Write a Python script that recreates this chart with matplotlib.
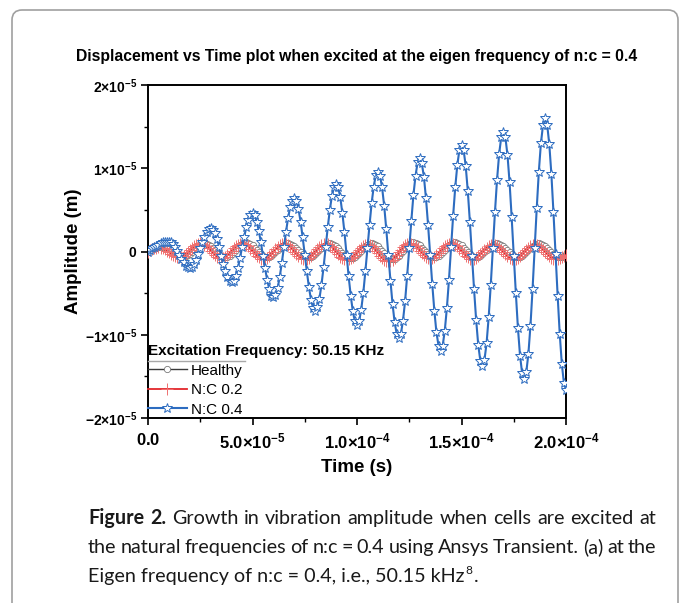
import numpy as np
import matplotlib
matplotlib.use("Agg")
import matplotlib.pyplot as plt
from matplotlib.patches import FancyBboxPatch
from matplotlib.lines import Line2D
from matplotlib.transforms import IdentityTransform
from matplotlib.ticker import FixedLocator, FixedFormatter, MultipleLocator

# ---------------- data (amplitudes in units of 1e-5 m) ----------------
title = "Displacement vs Time plot when excited at the eigen frequency of n:c = 0.4"
x_label = "Time (s)"
y_label = "Amplitude (m)"
legend_title = "Excitation Frequency: 50.15 KHz"
series_names = ["Healthy", "N:C 0.2", "N:C 0.4"]

x_ticks = [0.0, 5.0e-5, 1.0e-4, 1.5e-4, 2.0e-4]
x_tick_labels = [r"$0.0$", r"$5.0{\times}10^{-5}$", r"$1.0{\times}10^{-4}$",
                 r"$1.5{\times}10^{-4}$", r"$2.0{\times}10^{-4}$"]
y_ticks = [-2e-5, -1e-5, 0.0, 1e-5, 2e-5]
y_tick_labels = [r"$-2{\times}10^{-5}$", r"$-1{\times}10^{-5}$", r"$0$",
                 r"$1{\times}10^{-5}$", r"$2{\times}10^{-5}$"]

AMP_UNIT = 1e-5          # amplitude lists below are in 1e-5 m
time_s = np.linspace(0.0, 2.0e-4, 201)   # sampling grid, 1 µs step

healthy_e5 = [
    0.0, 0.013, 0.026, 0.037, 0.047, 0.054, 0.058, 0.06,
    0.057, 0.049, 0.035, 0.019, 0.0, -0.019, -0.035, -0.049, -0.057, -0.06,
    -0.056, -0.045, -0.027, -0.005, 0.02, 0.045, 0.067, 0.085, 0.096, 0.10,
    0.096, 0.084, 0.065, 0.041, 0.015, -0.011, -0.035, -0.054, -0.066, -0.07,
    -0.066, -0.053, -0.033, -0.008, 0.02, 0.048, 0.073, 0.093, 0.106, 0.11,
    0.106, 0.093, 0.073, 0.048, 0.02, -0.008, -0.033, -0.053, -0.066, -0.07,
    -0.066, -0.054, -0.035, -0.011, 0.015, 0.041, 0.065, 0.084, 0.096, 0.10,
    0.096, 0.084, 0.065, 0.041, 0.015, -0.011, -0.035, -0.054, -0.066, -0.07,
    -0.066, -0.054, -0.035, -0.011, 0.015, 0.041, 0.065, 0.084, 0.096, 0.10,
    0.096, 0.083, 0.063, 0.038, 0.01, -0.018, -0.043, -0.063, -0.076, -0.08,
    -0.076, -0.063, -0.043, -0.018, 0.01, 0.038, 0.063, 0.083, 0.096, 0.10,
    0.095, 0.082, 0.061, 0.034, 0.005, -0.024, -0.051, -0.072, -0.085, -0.09,
    -0.085, -0.071, -0.049, -0.021, 0.01, 0.041, 0.069, 0.091, 0.105, 0.11,
    0.106, 0.093, 0.073, 0.048, 0.02, -0.008, -0.033, -0.053, -0.066, -0.07,
    -0.066, -0.053, -0.033, -0.008, 0.02, 0.048, 0.073, 0.093, 0.106, 0.11,
    0.106, 0.093, 0.073, 0.048, 0.02, -0.008, -0.033, -0.053, -0.066, -0.07,
    -0.066, -0.054, -0.035, -0.011, 0.015, 0.041, 0.065, 0.084, 0.096, 0.10,
    0.096, 0.084, 0.065, 0.041, 0.015, -0.011, -0.035, -0.054, -0.066, -0.07,
    -0.066, -0.054, -0.035, -0.011, 0.015, 0.041, 0.065, 0.084, 0.096, 0.10,
    0.096, 0.084, 0.065, 0.041, 0.015, -0.011, -0.035, -0.054, -0.066, -0.07,
    -0.066, -0.054, -0.035,
]

nc02_e5 = [
    0.0, 0.015, 0.029, 0.040, 0.048, 0.05,
    0.047, 0.039, 0.025, 0.009, -0.01, -0.029, -0.045, -0.059, -0.067, -0.07,
    -0.066, -0.054, -0.035, -0.011, 0.015, 0.041, 0.065, 0.084, 0.096, 0.10,
    0.096, 0.083, 0.063, 0.038, 0.01, -0.018, -0.043, -0.063, -0.076, -0.08,
    -0.076, -0.063, -0.043, -0.018, 0.01, 0.038, 0.063, 0.083, 0.096, 0.10,
    0.095, 0.082, 0.061, 0.034, 0.005, -0.024, -0.051, -0.072, -0.085, -0.09,
    -0.086, -0.073, -0.053, -0.028, 0.0, 0.028, 0.053, 0.073, 0.086, 0.09,
    0.086, 0.073, 0.053, 0.028, 0.0, -0.028, -0.053, -0.073, -0.086, -0.09,
    -0.086, -0.073, -0.053, -0.028, 0.0, 0.028, 0.053, 0.073, 0.086, 0.09,
    0.085, 0.072, 0.051, 0.024, -0.005, -0.034, -0.061, -0.082, -0.095, -0.10,
    -0.096, -0.083, -0.063, -0.038, -0.01, 0.018, 0.043, 0.063, 0.076, 0.08,
    0.075, 0.061, 0.039, 0.011, -0.02, -0.051, -0.079, -0.101, -0.115, -0.12,
    -0.115, -0.099, -0.075, -0.044, -0.01, 0.024, 0.055, 0.079, 0.095, 0.10,
    0.096, 0.083, 0.063, 0.038, 0.01, -0.018, -0.043, -0.063, -0.076, -0.08,
    -0.076, -0.063, -0.043, -0.018, 0.01, 0.038, 0.063, 0.083, 0.096, 0.10,
    0.095, 0.082, 0.061, 0.034, 0.005, -0.024, -0.051, -0.072, -0.085, -0.09,
    -0.086, -0.074, -0.055, -0.031, -0.005, 0.021, 0.045, 0.064, 0.076, 0.08,
    0.076, 0.064, 0.045, 0.021, -0.005, -0.031, -0.055, -0.074, -0.086, -0.09,
    -0.086, -0.074, -0.055, -0.031, -0.005, 0.021, 0.045, 0.064, 0.076, 0.08,
    0.076, 0.064, 0.045, 0.021, -0.005, -0.031, -0.055, -0.074, -0.086, -0.09,
    -0.085, -0.075, -0.062, -0.05, -0.04,
]

nc04_e5 = [
    0.00, 0.02, 0.04, 0.05, 0.07, 0.08, 0.10, 0.11, 0.11, 0.12, 0.12,
    0.11, 0.09, 0.05, 0.01, -0.04, -0.09, -0.13, -0.17, -0.19, -0.20,
    -0.19, -0.15, -0.10, -0.03, 0.04, 0.11, 0.18, 0.23, 0.27, 0.28,
    0.26, 0.22, 0.15, 0.06, -0.05, -0.15, -0.24, -0.31, -0.35, -0.37,
    -0.35, -0.29, -0.20, -0.08, 0.05, 0.17, 0.29, 0.38, 0.44, 0.46,
    0.44, 0.36, 0.25, 0.11, -0.05, -0.20, -0.34, -0.45, -0.53, -0.55,
    -0.52, -0.44, -0.31, -0.14, 0.05, 0.23, 0.40, 0.53, 0.61, 0.64,
    0.61, 0.51, 0.36, 0.17, -0.04, -0.24, -0.43, -0.58, -0.68, -0.71,
    -0.67, -0.57, -0.40, -0.19, 0.05, 0.29, 0.50, 0.67, 0.77, 0.81,
    0.77, 0.65, 0.46, 0.23, -0.04, -0.30, -0.53, -0.72, -0.84, -0.88,
    -0.84, -0.70, -0.50, -0.24, 0.04, 0.32, 0.58, 0.78, 0.92, 0.96,
    0.91, 0.77, 0.55, 0.27, -0.04, -0.35, -0.63, -0.85, -0.99, -1.04,
    -0.99, -0.83, -0.60, -0.29, 0.04, 0.37, 0.68, 0.91, 1.07, 1.12,
    1.06, 0.90, 0.64, 0.32, -0.04, -0.39, -0.71, -0.97, -1.13, -1.19,
    -1.13, -0.95, -0.68, -0.34, 0.05, 0.43, 0.77, 1.04, 1.22, 1.28,
    1.22, 1.03, 0.73, 0.36, -0.05, -0.45, -0.82, -1.12, -1.31, -1.37,
    -1.30, -1.10, -0.79, -0.40, 0.04, 0.47, 0.86, 1.17, 1.37, 1.44,
    1.37, 1.16, 0.83, 0.41, -0.05, -0.50, -0.92, -1.25, -1.46, -1.53,
    -1.45, -1.23, -0.89, -0.45, 0.04, 0.52, 0.96, 1.30, 1.52, 1.60,
    1.52, 1.29, 0.93, 0.47, -0.03, -0.53, -0.99, -1.35, -1.58, -1.66,
]

caption_line1 = [("Figure", "bold"), ("2.", "bold"), ("Growth", "normal"), ("in", "normal"),
                 ("vibration", "normal"), ("amplitude", "normal"), ("when", "normal"),
                 ("cells", "normal"), ("are", "normal"), ("excited", "normal"), ("at", "normal")]
caption_line2 = "the natural frequencies of n:c = 0.4 using Ansys Transient. (a) at the"
caption_line3 = "Eigen frequency of n:c = 0.4, i.e., 50.15 kHz"
caption_sup = "8"

# ---------------- styling ----------------
W, H, DPI = 681, 603, 100
plt.rcParams["font.family"] = ["Liberation Sans", "DejaVu Sans"]
plt.rcParams["mathtext.fontset"] = "custom"
plt.rcParams["mathtext.rm"] = "Liberation Sans:bold"
plt.rcParams["mathtext.it"] = "Liberation Sans:bold"
plt.rcParams["mathtext.bf"] = "Liberation Sans:bold"
plt.rcParams["mathtext.sf"] = "Liberation Sans:bold"

fig = plt.figure(figsize=(W / DPI, H / DPI), dpi=DPI)
fig.patch.set_facecolor("white")

def px(x, y_top):
    return (x, H - y_top)

# rounded border
border = FancyBboxPatch((12, -20), 666, H - 10 + 20,
                        boxstyle="round,pad=0,rounding_size=10",
                        transform=IdentityTransform(), fc="none", ec="#a0a0a0", lw=1.2)
fig.add_artist(border)

ax_l, ax_r, ax_t, ax_b = 148, 566, 85, 418
ax = fig.add_axes([ax_l / W, 1 - ax_b / H, (ax_r - ax_l) / W, (ax_b - ax_t) / H])

t = np.asarray(time_s)
l_h, = ax.plot(t, np.asarray(healthy_e5) * AMP_UNIT, color="#3a3a3a", lw=1.0,
               marker="o", ms=4.5, mfc="white", mec="#7a7a7a", mew=0.6, zorder=2)
l_r, = ax.plot(t, np.asarray(nc02_e5) * AMP_UNIT, color="#e3262b", lw=1.3,
               marker="+", ms=8.5, mec="#ef7070", mew=0.7, zorder=3)
l_b, = ax.plot(t, np.asarray(nc04_e5) * AMP_UNIT, color="#2d6cc0", lw=1.5,
               marker="*", ms=7.5, mfc="white", mec="#2d6cc0", mew=0.7, zorder=4)

ax.set_xlim(0, 2.0e-4)
ax.set_ylim(-2e-5, 2e-5)
ax.xaxis.set_major_locator(FixedLocator(x_ticks))
ax.xaxis.set_major_formatter(FixedFormatter(x_tick_labels))
ax.yaxis.set_major_locator(FixedLocator(y_ticks))
ax.yaxis.set_major_formatter(FixedFormatter(y_tick_labels))
ax.xaxis.set_minor_locator(MultipleLocator(2.5e-5))
ax.yaxis.set_minor_locator(MultipleLocator(0.5e-5))
ax.tick_params(which="major", direction="out", length=5, width=1.2, color="black")
ax.tick_params(which="minor", direction="out", length=3, width=1.0, color="black")
ax.tick_params(axis="x", which="major", labelsize=12, pad=5)
ax.tick_params(axis="y", which="major", labelsize=10, pad=3)
for s in ax.spines.values():
    s.set_linewidth(1.4)
    s.set_color("black")

ax.set_xlabel(x_label, fontsize=13.5, fontweight="bold")
ax.set_ylabel(y_label, fontsize=13.5, fontweight="bold")
ax.xaxis.set_label_coords(0.5, (ax_b - 468) / (ax_b - ax_t))
ax.xaxis.label.set_va("center")
ax.yaxis.set_label_coords((73 - ax_l) / (ax_r - ax_l), 0.5)
ax.yaxis.label.set_va("center")
ax.yaxis.label.set_ha("center")

leg = ax.legend([l_h, l_r, l_b], series_names, title=legend_title,
                loc="upper left", bbox_to_anchor=(0.0, (ax_b - 344) / (ax_b - ax_t)),
                frameon=False, borderpad=0, borderaxespad=0, handlelength=2.55,
                handletextpad=0.25, labelspacing=0.36, fontsize=11, numpoints=1,
                title_fontproperties={"weight": "bold", "size": 11}, alignment="left")
fig.add_artist(Line2D([148, 245], [H - 361, H - 361], transform=IdentityTransform(),
                      color="#a8a8a8", lw=1.0))

renderer = fig.canvas.get_renderer()

# title, fitted to reference width
tt = fig.text(*px(357, 56), title, transform=IdentityTransform(), ha="center",
              va="center", fontsize=10, fontweight="bold")
w = tt.get_window_extent(renderer).width
tt.set_fontsize(10 * 563 / w)

# caption
cap_font = ["Lato", "DejaVu Sans"]
X0, X1 = 88, 656

def natural_width(words, fs):
    total = 0.0
    for wd, wt in words:
        o = fig.text(0, 0, wd, fontsize=fs, fontweight=wt, family=cap_font,
                     transform=IdentityTransform())
        total += o.get_window_extent(renderer).width
        o.remove()
    sp = fig.text(0, 0, "a a", fontsize=fs, family=cap_font, transform=IdentityTransform())
    sa = fig.text(0, 0, "aa", fontsize=fs, family=cap_font, transform=IdentityTransform())
    space = sp.get_window_extent(renderer).width - sa.get_window_extent(renderer).width
    sp.remove(); sa.remove()
    return total + space * (len(words) - 1)

cap_fs = 20 * 563 / natural_width(caption_line1, 20)

base1, base2, base3 = 524, 553, 582

def justify(words, y_base):
    objs = [fig.text(0, H - y_base, wd, fontsize=cap_fs, fontweight=wt, family=cap_font,
                     transform=IdentityTransform(), ha="left", va="baseline", color="#1a1a1a")
            for wd, wt in words]
    widths = [o.get_window_extent(renderer).width for o in objs]
    gap = (X1 - X0 - sum(widths)) / (len(objs) - 1)
    x = X0
    for o, wd in zip(objs, widths):
        o.set_x(x)
        x += wd + gap

justify(caption_line1, base1)
justify([(wd, "normal") for wd in caption_line2.split(" ")], base2)
t3 = fig.text(X0, H - base3, caption_line3, fontsize=cap_fs, family=cap_font,
              transform=IdentityTransform(), ha="left", va="baseline", color="#1a1a1a")
x3 = X0 + t3.get_window_extent(renderer).width
s3 = fig.text(x3 + 1, H - base3 + cap_fs * 0.55, caption_sup, fontsize=cap_fs * 0.6,
              family=cap_font, transform=IdentityTransform(), ha="left", va="baseline",
              color="#1a1a1a")
x4 = x3 + 1 + s3.get_window_extent(renderer).width
fig.text(x4 + 1, H - base3, ".", fontsize=cap_fs, family=cap_font,
         transform=IdentityTransform(), ha="left", va="baseline", color="#1a1a1a")

fig.savefig("out.png", dpi=DPI, facecolor="white")
